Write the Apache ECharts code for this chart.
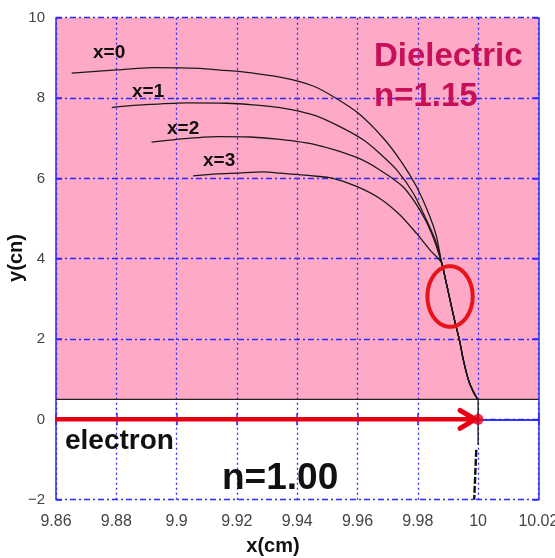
<!DOCTYPE html>
<html>
<head>
<meta charset="utf-8">
<script src="https://cdn.jsdelivr.net/npm/echarts@6/dist/echarts.min.js"></script>
<style>
html,body{margin:0;padding:0;background:#fff;}
#chart{width:555px;height:558px;}
</style>
</head>
<body>
<div id="chart"></div>
<script>
// ---- data ----
var xTicks = [9.86, 9.88, 9.9, 9.92, 9.94, 9.96, 9.98, 10, 10.02];
var yTicks = [-2, 0, 2, 4, 6, 8, 10];
var dielectricRegion = [[9.86, 0.5, 10.02, 10]];
var boundaryLine = [[9.86, 0.5], [10.02, 0.5]];
var trunk = [[9.9879,3.9],[9.989,3.55],[9.9907,2.97],[9.9923,2.43],[9.9938,1.98],[9.9951,1.48],[9.9968,0.98],[9.9984,0.69],[9.9997,0.52],[10,0.5]];
var curve0 = [[9.8652,8.62],[9.88,8.70],[9.892,8.755],[9.9077,8.74],[9.9155,8.69],[9.92,8.67],[9.9343,8.52],[9.9453,8.30],[9.953,7.99],[9.9603,7.62],[9.9686,7.0],[9.9741,6.46],[9.9796,5.79],[9.984,5.05],[9.9862,4.55]];
var curve1 = [[9.8785,7.76],[9.88,7.78],[9.8912,7.84],[9.9034,7.88],[9.9166,7.87],[9.9254,7.83],[9.9343,7.76],[9.9453,7.58],[9.953,7.33],[9.9619,6.96],[9.9674,6.62],[9.973,6.21],[9.9785,5.63],[9.9829,4.96],[9.9862,4.38]];
var curve2 = [[9.8917,6.90],[9.90,6.97],[9.9133,7.04],[9.9244,7.03],[9.9343,6.97],[9.9453,6.85],[9.9597,6.52],[9.9674,6.21],[9.9751,5.79],[9.9807,5.21],[9.9846,4.63]];
var curve3 = [[9.9055,6.06],[9.9133,6.11],[9.92,6.13],[9.9287,6.16],[9.9343,6.13],[9.9453,6.06],[9.9519,6.00],[9.9597,5.80],[9.9674,5.50],[9.9741,5.09],[9.9796,4.63],[9.984,4.22]];
var rayBelow = [[10,0.5],[10,-0.64]];
var rayLower = [[9.9994,-0.76],[9.9987,-2]];
var electronPath = [[9.86,0],[10,0]];
var electronHit = [[10,0]];
var ellipseMark = [[9.9907, 3.06, 0.0075, 0.755]]; // cx, cy, rx, ry (data units)

var chart = echarts.init(document.getElementById('chart'));
var BLUE = '#2b2bff';
var FONT = "'Liberation Sans', Arial, sans-serif";

function fmt(v){ var s = String(parseFloat(v.toFixed(2))); return s.replace('-', '\u2212'); }

function curveSeries(d){
  return {type:'line', data:d.concat(trunk), symbol:'none', z:3, smooth:0.25,
    lineStyle:{color:'#1a1a1a', width:1.3}, animation:false};
}

var option = {
  animation:false,
  grid:{left:56, right:16.6, top:17.7, bottom:58.3, containLabel:false, outerBoundsMode:'none'},
  xAxis:[{
    type:'value', min:9.86, max:10.02, interval:0.02, position:'bottom', z:1,
    axisLine:{show:true, lineStyle:{color:BLUE, width:1.5}},
    axisTick:{show:true, inside:true, length:6, lineStyle:{color:BLUE, width:1.5}},
    axisLabel:{color:'#444', fontSize:16, fontFamily:"'Liberation Sans Narrow', 'Liberation Sans', Arial, sans-serif", margin:14, formatter:fmt},
    splitLine:{show:true, lineStyle:{color:BLUE, width:1.3, type:[2,3]}}
  },{
    type:'value', min:9.86, max:10.02, interval:0.02, position:'top', z:4,
    axisLine:{show:true, lineStyle:{color:BLUE, width:1.5}},
    axisTick:{show:true, inside:true, length:6, lineStyle:{color:BLUE, width:1.5}},
    axisLabel:{show:false}, splitLine:{show:false}
  }],
  yAxis:[{
    type:'value', min:-2, max:10, interval:2, position:'left', z:1,
    axisLine:{show:true, lineStyle:{color:BLUE, width:1.5}},
    axisTick:{show:true, inside:true, length:6, lineStyle:{color:BLUE, width:1.5}},
    axisLabel:{color:'#444', fontSize:15, fontFamily:FONT, margin:11, formatter:fmt},
    splitLine:{show:true, lineStyle:{color:BLUE, width:1.3, type:[6,3,2,3]}}
  },{
    type:'value', min:-2, max:10, interval:2, position:'right', z:4,
    axisLine:{show:true, lineStyle:{color:BLUE, width:1.5}},
    axisTick:{show:true, inside:true, length:6, lineStyle:{color:BLUE, width:1.5}},
    axisLabel:{show:false}, splitLine:{show:false}
  }],
  series:[
    {type:'custom', z:-1, data:dielectricRegion, silent:true,
      renderItem:function(params, api){
        var a = api.coord([api.value(0), api.value(1)]);
        var b = api.coord([api.value(2), api.value(3)]);
        return {type:'rect', shape:{x:a[0], y:b[1], width:b[0]-a[0], height:a[1]-b[1]}, style:{fill:'#fea9c6'}};
      }},
    {type:'line', data:boundaryLine, symbol:'none', z:3, lineStyle:{color:'#222', width:1.3}},
    curveSeries(curve0), curveSeries(curve1), curveSeries(curve2), curveSeries(curve3),
    {type:'line', data:rayBelow, symbol:'none', z:3, lineStyle:{color:'#111', width:1.3}},
    {type:'line', data:rayLower, symbol:'none', z:3, lineStyle:{color:'#111', width:2.4, type:[7,2]}},
    {type:'line', data:electronPath, symbol:'none', z:4, lineStyle:{color:'#e60012', width:4.5}},
    {type:'custom', z:5, data:electronHit,
      renderItem:function(params, api){
        var p = api.coord([api.value(0), api.value(1)]);
        return {type:'polyline', shape:{points:[[p[0]-18,p[1]-9],[p[0]-3,p[1]],[p[0]-18,p[1]+9]]},
          style:{stroke:'#e60012', lineWidth:5, fill:null, lineCap:'round', lineJoin:'miter'}};
      }},
    {type:'scatter', data:electronHit, z:6, symbol:'circle', symbolSize:11, itemStyle:{color:'#e60012'}},
    {type:'custom', z:6, data:ellipseMark,
      renderItem:function(params, api){
        var c = api.coord([api.value(0), api.value(1)]);
        var s = api.size([api.value(2), api.value(3)]);
        var pts = [];
        for (var i=0;i<=72;i++){ var a=i/72*Math.PI*2; pts.push([c[0]+s[0]*Math.cos(a), c[1]+s[1]*Math.sin(a)]); }
        return {type:'polygon', shape:{points:pts}, style:{stroke:'#e8141c', lineWidth:4, fill:null}};
      }}
  ],
  graphic:[
    {type:'text', z:10, x:93, y:53, style:{text:'x=0', font:"bold 19px "+FONT, fill:'#111', textVerticalAlign:'middle'}},
    {type:'text', z:10, x:132, y:92, style:{text:'x=1', font:"bold 19px "+FONT, fill:'#111', textVerticalAlign:'middle'}},
    {type:'text', z:10, x:167, y:129, style:{text:'x=2', font:"bold 19px "+FONT, fill:'#111', textVerticalAlign:'middle'}},
    {type:'text', z:10, x:203, y:161, style:{text:'x=3', font:"bold 19px "+FONT, fill:'#111', textVerticalAlign:'middle'}},
    {type:'text', z:10, x:374, y:57, style:{text:'Dielectric', font:"bold 33px "+FONT, fill:'#c8105a', textVerticalAlign:'middle'}},
    {type:'text', z:10, x:374, y:97, style:{text:'n=1.15', font:"bold 33px "+FONT, fill:'#c8105a', textVerticalAlign:'middle'}},
    {type:'text', z:10, x:65, y:441, style:{text:'electron', font:"bold 28px "+FONT, fill:'#111', textVerticalAlign:'middle'}},
    {type:'text', z:10, x:222, y:479, style:{text:'n=1.00', font:"bold 37px "+FONT, fill:'#111', textVerticalAlign:'middle'}},
    {type:'text', z:10, x:273, y:546, style:{text:'x(cm)', font:"bold 20px "+FONT, fill:'#111', textAlign:'center', textVerticalAlign:'middle'}},
    {type:'text', z:10, x:16.5, y:258, rotation:Math.PI/2, style:{text:'y(cn)', font:"bold 20px "+FONT, fill:'#111', textAlign:'center', textVerticalAlign:'middle'}}
  ]
};
chart.setOption(option);
</script>
</body>
</html>
